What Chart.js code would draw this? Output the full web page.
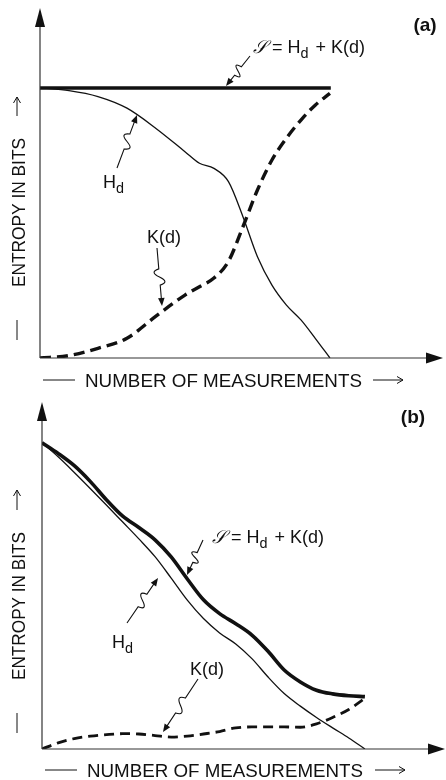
<!DOCTYPE html>
<html><head><meta charset="utf-8">
<script src="https://cdn.jsdelivr.net/npm/chart.js@4"></script>
<style>
html,body{margin:0;padding:0;background:#fff;}
.panel{position:relative;width:446px;height:390px;}
</style></head><body>
<div class="panel"><canvas id="ca"></canvas></div>
<div class="panel"><canvas id="cb"></canvas></div>
<script>
// ---------- DATA (arbitrary units) ----------
// Panel (a)
const xA = [0, 1, 2, 3, 4, 5, 5.5, 6, 6.5, 7, 7.5, 8, 8.5, 9, 9.5, 10];
const hdA = [10, 9.9, 9.68, 9.25, 8.5, 7.64, 7.21, 7.02, 6.53, 5.23, 3.75, 2.7, 1.96, 1.41, 0.72, 0];
const kdA = [0, 0.09, 0.36, 0.73, 1.55, 2.33, 2.64, 2.96, 3.58, 4.86, 6.22, 7.33, 8.14, 8.81, 9.37, 9.8];
const sxA = [0, 10.03];
const sA = [10, 10];
// Panel (b)
const xB = [0, 0.5, 1, 1.5, 2, 2.5, 3, 3.5, 4, 4.5, 5, 5.5, 6, 6.5, 7, 7.5, 8, 8.5, 9, 9.5, 10];
const sB = [10, 9.65, 9.25, 8.73, 8.13, 7.6, 7.23, 6.83, 6.27, 5.55, 4.87, 4.42, 4.09, 3.72, 3.19, 2.58, 2.19, 1.92, 1.8, 1.74, 1.71];
const hdB = [10, 9.54, 9.03, 8.5, 7.96, 7.41, 6.86, 6.28, 5.58, 4.86, 4.26, 3.79, 3.43, 2.95, 2.35, 1.81, 1.4, 1.03, 0.69, 0.36, 0];
const kdB = [0, 0.2, 0.34, 0.42, 0.47, 0.5, 0.49, 0.44, 0.39, 0.42, 0.49, 0.57, 0.69, 0.72, 0.72, 0.72, 0.71, 0.82, 1.03, 1.29, 1.66];
// Text
const xTitle = 'NUMBER OF MEASUREMENTS';
const yTitle = 'ENTROPY IN BITS';
const panelA = '(a)';
const panelB = '(b)';

// ---------- helpers ----------
const INK = '#111';
const SANS = '"Liberation Sans", Arial, Helvetica, sans-serif';
const pts = (xs, ys) => xs.map((x, i) => ({x: x, y: ys[i]}));

function head(ctx, x, y, ang, len, half) {
  ctx.save(); ctx.translate(x, y); ctx.rotate(ang);
  ctx.beginPath(); ctx.moveTo(0, 0); ctx.lineTo(-len, -half); ctx.lineTo(-len, half); ctx.closePath(); ctx.fill();
  ctx.restore();
}
function squiggle(ctx, x0, y0, x1, y1) {
  const dx = x1 - x0, dy = y1 - y0, L = Math.hypot(dx, dy), ux = dx / L, uy = dy / L, px = -uy, py = ux;
  const P = (t, o) => [x0 + dx * t + px * o, y0 + dy * t + py * o];
  const a = P(0.36, 0), m = P(0.5, 0), b = P(0.64, 0), c1 = P(0.40, 10), c2 = P(0.60, -10);
  ctx.save(); ctx.strokeStyle = INK; ctx.fillStyle = INK; ctx.lineWidth = 1.1;
  ctx.beginPath(); ctx.moveTo(x0, y0); ctx.lineTo(a[0], a[1]);
  ctx.quadraticCurveTo(c1[0], c1[1], m[0], m[1]);
  ctx.quadraticCurveTo(c2[0], c2[1], b[0], b[1]);
  ctx.lineTo(x1 - ux * 5, y1 - uy * 5); ctx.stroke();
  head(ctx, x1, y1, Math.atan2(dy, dx), 8, 3.3);
  ctx.restore();
}
function label(ctx, x, y, parts, size) {
  let cx = x;
  ctx.save(); ctx.fillStyle = INK; ctx.textBaseline = 'alphabetic'; ctx.textAlign = 'left';
  for (const p of parts) {
    const fs = p.sub ? size * 0.8 : size;
    ctx.font = (p.style || '') + fs + 'px ' + (p.family || SANS);
    ctx.fillText(p.t, cx, y + (p.sub ? size * 0.3 : 0));
    cx += ctx.measureText(p.t).width + (p.gap || 0);
  }
  ctx.restore();
}
function fitText(ctx, text, x, y, w, size) {
  ctx.save(); ctx.font = size + 'px ' + SANS; ctx.fillStyle = INK; ctx.textBaseline = 'alphabetic';
  const m = ctx.measureText(text).width;
  ctx.translate(x, y); ctx.scale(w / m, 1); ctx.fillText(text, 0, 0); ctx.restore();
}
function sLabel() {
  return [{t: '\u{1D4AE}', family: '"DejaVu Serif", serif', style: 'italic '}, {t: ' = H'}, {t: 'd', sub: true, gap: 2}, {t: ' + K(d)'}];
}

function decorPlugin(L) {
  return {
    id: 'decor',
    afterDatasetsDraw(chart) {
      const ctx = chart.ctx, xs = chart.scales.x, ys = chart.scales.y, ca = chart.chartArea;
      const ox = xs.getPixelForValue(0), oy = ys.getPixelForValue(0);
      ctx.save();
      ctx.strokeStyle = '#333'; ctx.fillStyle = INK; ctx.lineWidth = 1.2;
      // axes with filled arrow heads
      ctx.beginPath(); ctx.moveTo(ox, oy); ctx.lineTo(ox, ca.top + 10); ctx.stroke();
      ctx.beginPath(); ctx.moveTo(ox, oy); ctx.lineTo(ca.right - 10, oy); ctx.stroke();
      head(ctx, ox, ca.top, -Math.PI / 2, 19, 5);
      head(ctx, ca.right, oy, 0, 17, 5.5);
      // x title: dash, text, arrow
      ctx.strokeStyle = INK; ctx.lineWidth = 1;
      ctx.beginPath(); ctx.moveTo(L.xDash[0], L.xMid); ctx.lineTo(L.xDash[1], L.xMid); ctx.stroke();
      fitText(ctx, xTitle, L.xText[0], L.xBase, L.xText[1] - L.xText[0], 18.5);
      ctx.beginPath(); ctx.moveTo(L.xArrow[0], L.xMid); ctx.lineTo(L.xArrow[1], L.xMid); ctx.stroke();
      ctx.beginPath(); ctx.moveTo(L.xArrow[1] - 6, L.xMid - 3.5); ctx.lineTo(L.xArrow[1], L.xMid); ctx.lineTo(L.xArrow[1] - 6, L.xMid + 3.5); ctx.stroke();
      // y title (rotated)
      ctx.beginPath(); ctx.moveTo(L.yMid, L.yDash[0]); ctx.lineTo(L.yMid, L.yDash[1]); ctx.stroke();
      ctx.save(); ctx.translate(L.yBase, L.yText[0]); ctx.rotate(-Math.PI / 2);
      fitText(ctx, yTitle, 0, 0, L.yText[0] - L.yText[1], 18.5);
      ctx.restore();
      ctx.beginPath(); ctx.moveTo(L.yMid, L.yArrow[0]); ctx.lineTo(L.yMid, L.yArrow[1]); ctx.stroke();
      ctx.beginPath(); ctx.moveTo(L.yMid - 3.5, L.yArrow[1] + 6); ctx.lineTo(L.yMid, L.yArrow[1]); ctx.lineTo(L.yMid + 3.5, L.yArrow[1] + 6); ctx.stroke();
      // panel tag
      ctx.font = 'bold 19px ' + SANS; ctx.fillStyle = INK; ctx.textAlign = 'center';
      ctx.fillText(L.tag, L.tagPos[0], L.tagPos[1]);
      ctx.textAlign = 'left';
      // curve labels
      label(ctx, L.sLab[0], L.sLab[1], sLabel(), 18);
      label(ctx, L.hLab[0], L.hLab[1], [{t: 'H'}, {t: 'd', sub: true}], 18);
      label(ctx, L.kLab[0], L.kLab[1], [{t: 'K(d)'}], 18);
      // squiggly pointers
      for (const s of L.squiggles) squiggle(ctx, s[0], s[1], s[2], s[3]);
      ctx.restore();
    }
  };
}

function makeChart(id, datasets, xmax, ymax, pad, L) {
  return new Chart(document.getElementById(id), {
    type: 'line',
    data: {datasets: datasets},
    options: {
      responsive: true, maintainAspectRatio: false, animation: false, events: [],
      layout: {padding: pad},
      elements: {point: {radius: 0}, line: {cubicInterpolationMode: 'monotone', borderCapStyle: 'butt'}},
      scales: {
        x: {type: 'linear', min: 0, max: xmax, display: false},
        y: {type: 'linear', min: 0, max: ymax, display: false}
      },
      plugins: {legend: {display: false}, tooltip: {enabled: false}}
    },
    plugins: [decorPlugin(L)]
  });
}

makeChart('ca', [
  {label: 'S = Hd + K(d)', data: pts(sxA, sA), borderColor: INK, borderWidth: 3.6, fill: false},
  {label: 'Hd', data: pts(xA, hdA), borderColor: INK, borderWidth: 1.3, fill: false},
  {label: 'K(d)', data: pts(xA, kdA), borderColor: INK, borderWidth: 3.4, borderDash: [11, 6], fill: false}
], 13.9, 12.96, {left: 40, top: 8, right: 3, bottom: 32}, {
  xDash: [43, 75], xMid: 380, xText: [85, 362], xBase: 387, xArrow: [373, 403],
  yMid: 17, yDash: [320, 340], yBase: 25, yText: [287, 138], yArrow: [116, 97],
  tag: panelA, tagPos: [425, 31],
  sLab: [253, 53], hLab: [103, 188], kLab: [147, 243],
  squiggles: [[250, 56, 226, 86], [117, 168, 137, 115], [157, 248, 162, 306]]
});

makeChart('cb', [
  {label: 'S = Hd + K(d)', data: pts(xB, sB), borderColor: INK, borderWidth: 3.6, fill: false},
  {label: 'Hd', data: pts(xB, hdB), borderColor: INK, borderWidth: 1.3, fill: false},
  {label: 'K(d)', data: pts(xB, kdB), borderColor: INK, borderWidth: 2.8, borderDash: [10, 6], fill: false}
], 12.48, 11.33, {left: 42, top: 12, right: 1, bottom: 31}, {
  xDash: [45, 77], xMid: 380, xText: [87, 363], xBase: 387, xArrow: [375, 405],
  yMid: 17, yDash: [323, 343], yBase: 25, yText: [290, 142], yArrow: [120, 100],
  tag: panelB, tagPos: [413, 33],
  sLab: [212, 153], hLab: [112, 258], kLab: [190, 285],
  squiggles: [[203, 150, 187, 185], [127, 233, 158, 188], [198, 289, 163, 342]]
});
</script>
</body></html>
